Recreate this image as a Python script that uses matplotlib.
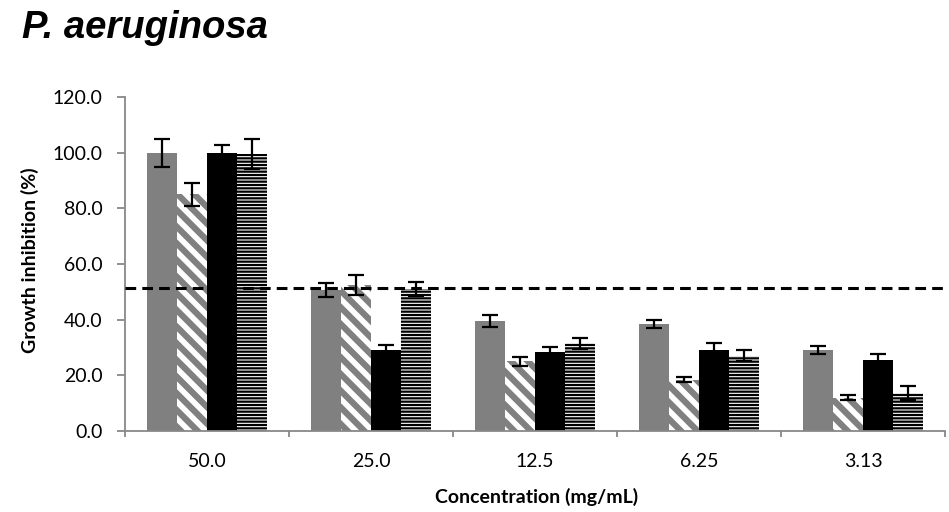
import matplotlib
matplotlib.use("Agg")
import matplotlib.pyplot as plt
import numpy as np

concentrations = ["50.0", "25.0", "12.5", "6.25", "3.13"]
y_ticks = [0, 20, 40, 60, 80, 100, 120]

# four treatment series, mean growth inhibition (%) and error
series_a = [100.0, 50.5, 39.5, 38.5, 29.0]
series_a_err = [5.0, 2.5, 2.0, 1.5, 1.5]
series_b = [85.0, 52.5, 25.0, 18.5, 12.0]
series_b_err = [4.0, 3.5, 1.5, 1.0, 1.0]
series_c = [100.0, 29.0, 28.5, 29.0, 25.5]
series_c_err = [2.8, 2.0, 1.7, 2.5, 2.0]
series_d = [99.5, 51.0, 31.5, 27.0, 13.5]
series_d_err = [5.5, 2.5, 2.0, 2.0, 2.5]

threshold = 51.5

W, H = 949, 512
fig = plt.figure(figsize=(W / 100, H / 100), dpi=100)
ax = fig.add_axes([125 / W, 81 / H, 820 / W, 334 / H])

x = np.arange(len(concentrations))
width = 0.183
offsets = np.array([-1.5, -0.5, 0.5, 1.5]) * width

styles = [
    dict(color="#808080", hatch=None, edgecolor="#808080", hlw=1.0),
    dict(color="white", hatch="\\\\", edgecolor="#808080", hlw=4.5),
    dict(color="black", hatch=None, edgecolor="black", hlw=1.0),
    dict(color="white", hatch="-----", edgecolor="black", hlw=1.6),
]
data = [
    (series_a, series_a_err),
    (series_b, series_b_err),
    (series_c, series_c_err),
    (series_d, series_d_err),
]

for (vals, errs), off, st in zip(data, offsets, styles):
    with plt.rc_context({"hatch.linewidth": st["hlw"]}):
        ax.bar(x + off, vals, width, color=st["color"], hatch=st["hatch"],
               edgecolor=st["edgecolor"], linewidth=0, zorder=2)
    ax.errorbar(x + off, vals, yerr=errs, fmt="none", ecolor="black",
                elinewidth=1.6, capsize=6, capthick=1.6, zorder=3)

ax.axhline(threshold, color="black", linestyle=(0, (3.5, 2)), linewidth=2.2, zorder=4)

ax.set_xlim(-0.5, len(concentrations) - 0.5)
ax.set_ylim(0, 120)
ax.set_yticks(y_ticks)
ax.set_yticklabels([f"{v:.1f}" for v in y_ticks])
ax.set_xticks(x)
ax.set_xticklabels(concentrations)
ax.set_xticks(np.arange(len(concentrations) + 1) - 0.5, minor=True)

for side in ("top", "right"):
    ax.spines[side].set_visible(False)
for side in ("left", "bottom"):
    ax.spines[side].set_color("#888888")
    ax.spines[side].set_linewidth(1.3)

ax.tick_params(axis="y", direction="out", length=6, color="#888888", width=1.3,
               labelsize=14, pad=10)
ax.tick_params(axis="x", which="major", length=0, labelsize=14, pad=15.5)
ax.tick_params(axis="x", which="minor", direction="out", length=4,
               color="#888888", width=1.3)
for lbl in ax.get_xticklabels() + ax.get_yticklabels():
    lbl.set_fontfamily("Lato")

fig.text(30 / W, 1 - 260 / H, "Growth inhibition (%)", fontfamily="Lato",
         fontweight="bold", fontsize=14, rotation=90, ha="center", va="center")
fig.text(537 / W, 1 - 497 / H, "Concentration (mg/mL)", fontfamily="Lato",
         fontweight="bold", fontsize=14, ha="center", va="center")

fig.text(22 / W, 1 - 38 / H, "P. aeruginosa", fontfamily="Liberation Sans",
         fontweight="bold", fontstyle="italic", fontsize=27.5, ha="left", va="baseline")

fig.savefig("out.png", dpi=100)
